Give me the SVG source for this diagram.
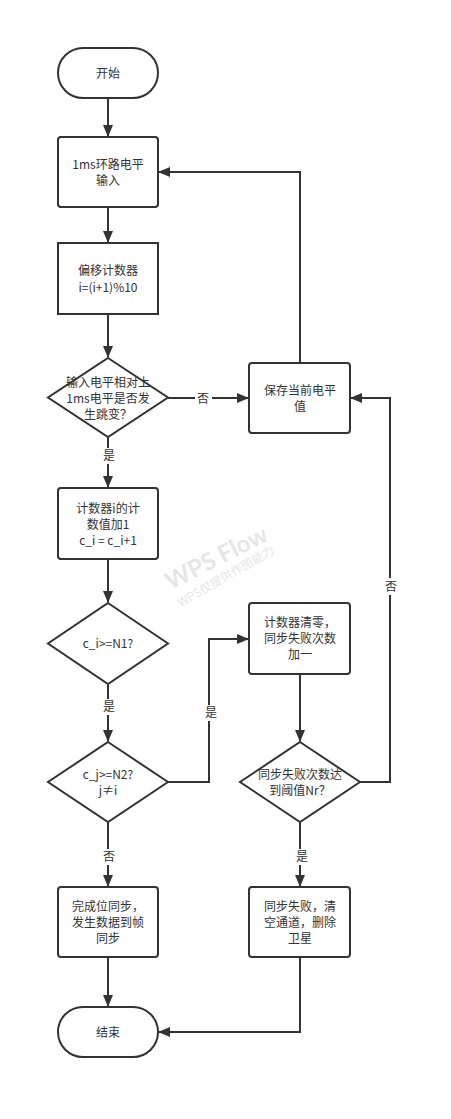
<svg xmlns="http://www.w3.org/2000/svg" width="451" height="1119" viewBox="0 0 451 1119">
<defs>
<marker id="arr" viewBox="0 0 12 10" refX="11" refY="5" markerWidth="12" markerHeight="10" orient="auto" markerUnits="userSpaceOnUse">
<path d="M0,0 L12,5 L0,10 Z" fill="#333"/>
</marker>
<style>
.s{fill:#fff;stroke:#333;stroke-width:2}
.t{font-family:"Noto Sans CJK SC","Microsoft YaHei",sans-serif;font-size:12px;fill:#333;text-anchor:middle}
.c{fill:none;stroke:#333;stroke-width:2}
.l{font-family:"Noto Sans CJK SC",sans-serif;font-size:12px;fill:#333;text-anchor:middle}
.lb{fill:#fff}
</style>
</defs>
<rect width="451" height="1119" fill="#fff"/>
<g id="watermark" fill="#e6e6e6" font-family="Lato,'Noto Sans',sans-serif">
<text x="220" y="565" font-size="24" font-weight="bold" text-anchor="middle" transform="rotate(-27 220 565)">WPS Flow</text>
<text x="228" y="580" font-size="12" text-anchor="middle" font-family="'Noto Sans CJK SC',sans-serif" transform="rotate(-30 228 580)">WPS仅提供作图能力</text>
</g>
<g id="connectors">
<path class="c" d="M108,98 V136" marker-end="url(#arr)"/>
<path class="c" d="M108,207 V242" marker-end="url(#arr)"/>
<path class="c" d="M108,314 V357" marker-end="url(#arr)"/>
<path class="c" d="M168,398 H248" marker-end="url(#arr)"/>
<path class="c" d="M300,363 V172 H159" marker-end="url(#arr)"/>
<path class="c" d="M108,437 V487" marker-end="url(#arr)"/>
<path class="c" d="M108,559 V602" marker-end="url(#arr)"/>
<path class="c" d="M108,684 V741" marker-end="url(#arr)"/>
<path class="c" d="M168,782 H209 V639 H248" marker-end="url(#arr)"/>
<path class="c" d="M300,674 V741" marker-end="url(#arr)"/>
<path class="c" d="M360,782 H390 V398 H351" marker-end="url(#arr)"/>
<path class="c" d="M108,822 V886" marker-end="url(#arr)"/>
<path class="c" d="M300,822 V886" marker-end="url(#arr)"/>
<path class="c" d="M108,957 V1006" marker-end="url(#arr)"/>
<path class="c" d="M300,957 V1032 H159" marker-end="url(#arr)"/>
<rect class="lb" x="195" y="390" width="17" height="17"/>
<text class="l" x="203" y="403">否</text>
<rect class="lb" x="100" y="448" width="17" height="16"/>
<text class="l" x="109" y="460">是</text>
<rect class="lb" x="100" y="699" width="17" height="16"/>
<text class="l" x="109" y="711">是</text>
<rect class="lb" x="202" y="705" width="17" height="16"/>
<text class="l" x="211" y="717">是</text>
<rect class="lb" x="382" y="578" width="17" height="17"/>
<text class="l" x="391" y="591">否</text>
<rect class="lb" x="100" y="849" width="17" height="16"/>
<text class="l" x="109" y="861">否</text>
<rect class="lb" x="292" y="849" width="17" height="16"/>
<text class="l" x="302" y="861">是</text>
</g>
<g id="start">
<rect class="s" x="58" y="48" width="100" height="50" rx="25"/>
<text class="t" x="108" y="78">开始</text>
</g>
<g id="input">
<rect class="s" x="58" y="137" width="100" height="70" rx="3"/>
<text class="t" x="108" y="169">1ms环路电平</text>
<text class="t" x="108" y="185">输入</text>
</g>
<g id="offset">
<rect class="s" x="58" y="243" width="100" height="71"/>
<text class="t" x="108" y="275">偏移计数器</text>
<text class="t" x="108" y="292">i=(i+1)%10</text>
</g>
<g id="jump">
<path class="s" d="M108,358 L168,397.5 L108,437 L48,397.5 Z"/>
<text class="t" x="108" y="387">输入电平相对上</text>
<text class="t" x="108" y="403">1ms电平是否发</text>
<text class="t" x="108" y="419">生跳变？</text>
</g>
<g id="save">
<rect class="s" x="249" y="363" width="101" height="70" rx="3"/>
<text class="t" x="300" y="395">保存当前电平</text>
<text class="t" x="300" y="411">值</text>
</g>
<g id="count">
<rect class="s" x="58" y="488" width="100" height="71" rx="3"/>
<text class="t" x="108" y="513">计数器i的计</text>
<text class="t" x="108" y="529">数值加1</text>
<text class="t" x="108" y="545">c_i = c_i+1</text>
</g>
<g id="n1">
<path class="s" d="M108,603 L168,643.5 L108,684 L48,643.5 Z"/>
<text class="t" x="108" y="648">c_i&gt;=N1?</text>
</g>
<g id="n2">
<path class="s" d="M108,742 L168,782 L108,822 L48,782 Z"/>
<text class="t" x="108" y="779">c_j&gt;=N2?</text>
<text class="t" x="108" y="795">j≠i</text>
</g>
<g id="clear">
<rect class="s" x="249" y="603" width="101" height="71" rx="3"/>
<text class="t" x="300" y="627">计数器清零，</text>
<text class="t" x="300" y="643">同步失败次数</text>
<text class="t" x="300" y="659">加一</text>
</g>
<g id="nr">
<path class="s" d="M300,742 L360,782 L300,822 L240,782 Z"/>
<text class="t" x="300" y="779">同步失败次数达</text>
<text class="t" x="300" y="795">到阈值Nr？</text>
</g>
<g id="done">
<rect class="s" x="58" y="887" width="100" height="70" rx="3"/>
<text class="t" x="108" y="911">完成位同步，</text>
<text class="t" x="108" y="927">发生数据到帧</text>
<text class="t" x="108" y="943">同步</text>
</g>
<g id="fail">
<rect class="s" x="249" y="887" width="101" height="70" rx="3"/>
<text class="t" x="300" y="911">同步失败，清</text>
<text class="t" x="300" y="927">空通道，删除</text>
<text class="t" x="300" y="943">卫星</text>
</g>
<g id="end">
<rect class="s" x="58" y="1007" width="100" height="50" rx="25"/>
<text class="t" x="108" y="1037">结束</text>
</g>
</svg>
